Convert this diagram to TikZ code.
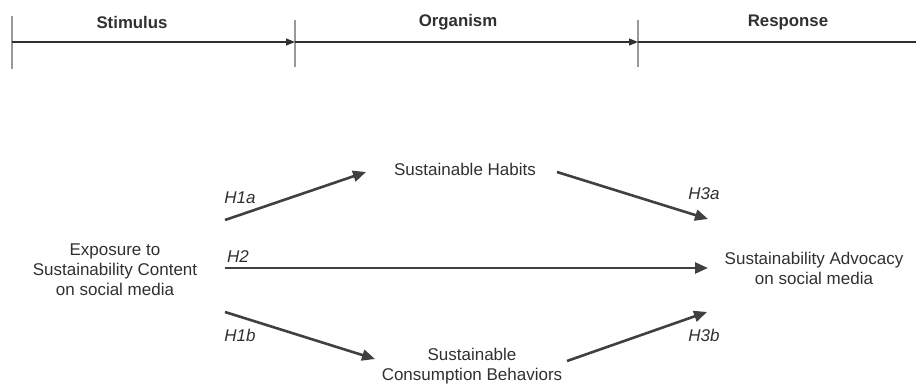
\documentclass[tikz,border=0pt]{standalone}
\usepackage{fontspec}
\setmainfont{Liberation Sans}
\usetikzlibrary{arrows.meta}
\definecolor{txt}{HTML}{303030}
\definecolor{arr}{HTML}{404040}
\definecolor{tick}{HTML}{999999}
\tikzset{
  lbl/.style={text=txt, align=center, inner sep=0pt, font=\fontsize{17}{20}\selectfont},
  hd/.style={text=txt, inner sep=0pt, font=\fontsize{16.8}{20}\selectfont\bfseries},
  hyp/.style={text=txt, inner sep=0pt, font=\fontsize{17}{20}\selectfont\itshape},
  path/.style={draw=arr, line width=2.6pt, -{Triangle[length=13pt,width=11pt]}},
  axis/.style={draw=txt, line width=1.1pt},
  axisarr/.style={axis, -{Triangle[length=9pt,width=7pt]}},
  ticky/.style={draw=tick, line width=1.1pt}
}
\begin{document}
\begin{tikzpicture}[x=1pt,y=-1pt]
\useasboundingbox (0,0) rectangle (916,386);
% timeline
\coordinate (t0) at (12,42);
\coordinate (t1) at (295,42);
\coordinate (t2) at (638,42);
\coordinate (t3) at (916,42);
\draw[ticky] (12,16) -- (12,69);
\draw[ticky] (295,20) -- (295,67);
\draw[ticky] (638,20) -- (638,67);
\draw[axisarr] (t0) -- (t1);
\draw[axisarr] (t1) -- (t2);
\draw[axis] (t2) -- (t3);
\node[hd] (stim) at (132,22) {Stimulus};
\node[hd] (org) at (458,22) {Organism};
\node[hd] (resp) at (788,22) {Response};
% nodes
\node[lbl] (expo) at (115,270) {Exposure to\\Sustainability Content\\on social media};
\node[lbl] (adv) at (814,268) {Sustainability Advocacy\\on social media};
\node[lbl] (hab) at (465,169) {Sustainable Habits};
\node[lbl] (scb) at (472,366.5) {Sustainable\\Consumption Behaviors};
% connector endpoints
\coordinate (a1s) at (225,220);
\coordinate (a1e) at (366,172);
\coordinate (a2s) at (225,268);
\coordinate (a2e) at (708,268);
\coordinate (b1s) at (225,312);
\coordinate (b1e) at (375,359);
\coordinate (c1s) at (557,172);
\coordinate (c1e) at (708,219);
\coordinate (c2s) at (567,361);
\coordinate (c2e) at (707,312);
\draw[path] (a1s) -- (a1e);
\draw[path] (a2s) -- (a2e);
\draw[path] (b1s) -- (b1e);
\draw[path] (c1s) -- (c1e);
\draw[path] (c2s) -- (c2e);
% hypothesis labels
\node[hyp] (h1a) at (240,198) {H1a};
\node[hyp] (h2) at (238,257) {H2};
\node[hyp] (h1b) at (240,335) {H1b};
\node[hyp] (h3a) at (704,194) {H3a};
\node[hyp] (h3b) at (704,335) {H3b};
\end{tikzpicture}
\end{document}
